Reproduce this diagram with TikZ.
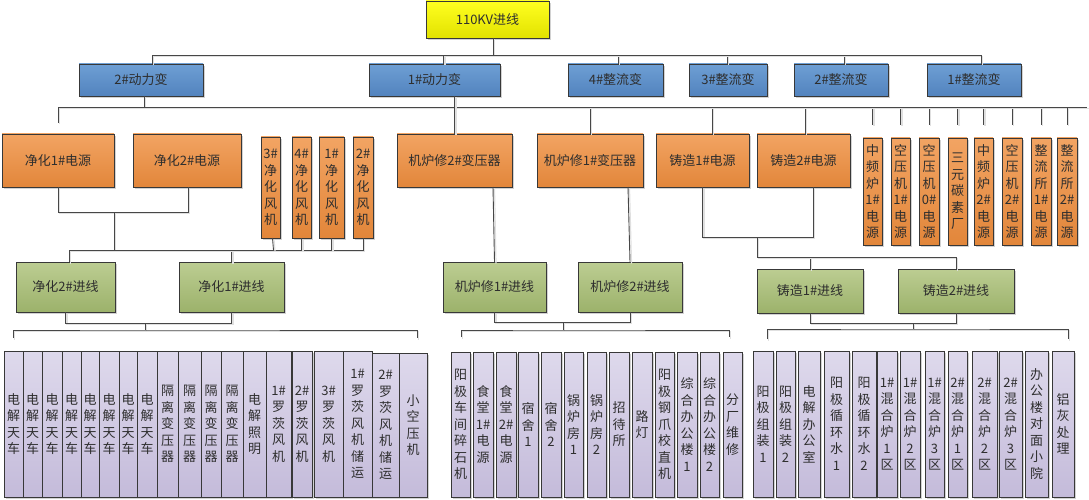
\documentclass[tikz,border=0pt]{standalone}
\usepackage{fontspec}
\newfontfamily\cjk{Noto Sans CJK SC}
\usetikzlibrary{shadows}
\definecolor{yT}{HTML}{FFFF20}
\definecolor{yB}{HTML}{E2E200}
\definecolor{bT}{HTML}{6E9FD4}
\definecolor{bB}{HTML}{5283BE}
\definecolor{oT}{HTML}{F2A463}
\definecolor{oB}{HTML}{E2863A}
\definecolor{gT}{HTML}{BCCD92}
\definecolor{gB}{HTML}{9CB26B}
\definecolor{pT}{HTML}{DED9EC}
\definecolor{pB}{HTML}{C4BBDA}
\newcommand\bx[7]{\node[#6, minimum width={#4-#2}, minimum height={#5-#3}] (#1) at ({(#2+#4)/2},{-(#3+#5)/2}) {#7};}
\tikzset{
  bx/.style={draw=black!78, line width=0.9pt, inner sep=0pt, outer sep=0pt, align=center,
    text=black!82, font=\cjk\fontsize{13}{16.5}\selectfont,
    drop shadow={shadow xshift=2pt, shadow yshift=-2pt, fill=black!35, opacity=0.5}},
  ybox/.style={bx, top color=yT, bottom color=yB},
  bbox/.style={bx, top color=bT, bottom color=bB},
  obox/.style={bx, top color=oT, bottom color=oB},
  gbox/.style={bx, top color=gT, bottom color=gB},
  pbox/.style={bx, top color=pT, bottom color=pB},
  conn/.style={draw=black!72, line width=0.9pt,
    preaction={draw=black!12, line width=1.2pt, transform canvas={shift={(1.5pt,-1.5pt)}}}}
}
\begin{document}
\begin{tikzpicture}[x=1pt,y=1pt]
\useasboundingbox (0,0) rectangle (1089,-500);
% top
\bx{top}{426}{1}{549}{38}{ybox}{110KV进线}
% level 1
\bx{dl2}{79}{64}{203}{96}{bbox}{2\#动力变}
\bx{dl1}{369}{64}{500}{96}{bbox}{1\#动力变}
\bx{zl4}{568}{64}{663}{96}{bbox}{4\#整流变}
\bx{zl3}{689}{64}{767}{96}{bbox}{3\#整流变}
\bx{zl2}{794}{64}{888}{96}{bbox}{2\#整流变}
\bx{zl1}{927}{64}{1021}{96}{bbox}{1\#整流变}
% level 2
\bx{jh1}{2}{134}{114}{187}{obox}{净化1\#电源}
\bx{jh2}{133}{134}{241}{187}{obox}{净化2\#电源}
\bx{f3}{261}{137}{280}{238}{obox}{3\#\\净\\化\\风\\机}
\bx{f4}{292}{137}{311}{238}{obox}{4\#\\净\\化\\风\\机}
\bx{f1}{319}{137}{344}{238}{obox}{1\#\\净\\化\\风\\机}
\bx{f2}{353}{137}{373}{238}{obox}{2\#\\净\\化\\风\\机}
\bx{jb2}{397}{134}{512}{187}{obox}{机炉修2\#变压器}
\bx{jb1}{537}{134}{643}{187}{obox}{机炉修1\#变压器}
\bx{zz1}{656}{134}{749}{187}{obox}{铸造1\#电源}
\bx{zz2}{757}{134}{850}{187}{obox}{铸造2\#电源}
\bx{s1}{863}{138}{882}{245}{obox}{中\\频\\炉\\1\#\\电\\源}
\bx{s2}{891}{138}{910}{245}{obox}{空\\压\\机\\1\#\\电\\源}
\bx{s3}{919}{138}{939}{245}{obox}{空\\压\\机\\0\#\\电\\源}
\bx{s4}{948}{138}{967}{245}{obox}{三\\元\\碳\\素\\厂}
\bx{s5}{974}{138}{993}{245}{obox}{中\\频\\炉\\2\#\\电\\源}
\bx{s6}{1002}{138}{1022}{245}{obox}{空\\压\\机\\2\#\\电\\源}
\bx{s7}{1031}{138}{1051}{245}{obox}{整\\流\\所\\1\#\\电\\源}
\bx{s8}{1057}{138}{1077}{245}{obox}{整\\流\\所\\2\#\\电\\源}
% level 3
\bx{jx2}{16}{262}{115}{312}{gbox}{净化2\#进线}
\bx{jx1}{179}{262}{284}{312}{gbox}{净化1\#进线}
\bx{jk1}{443}{262}{546}{312}{gbox}{机炉修1\#进线}
\bx{jk2}{578}{262}{682}{312}{gbox}{机炉修2\#进线}
\bx{zj1}{757}{269}{863}{313}{gbox}{铸造1\#进线}
\bx{zj2}{898}{269}{1014}{313}{gbox}{铸造2\#进线}
% bottom left group
\bx{p1}{4}{351}{23}{497}{pbox}{电\\解\\天\\车}
\bx{p2}{23}{351}{42}{497}{pbox}{电\\解\\天\\车}
\bx{p3}{42}{351}{62}{497}{pbox}{电\\解\\天\\车}
\bx{p4}{62}{351}{81}{497}{pbox}{电\\解\\天\\车}
\bx{p5}{81}{351}{99}{497}{pbox}{电\\解\\天\\车}
\bx{p6}{99}{351}{119}{497}{pbox}{电\\解\\天\\车}
\bx{p7}{119}{351}{137}{497}{pbox}{电\\解\\天\\车}
\bx{p8}{137}{351}{157}{497}{pbox}{电\\解\\天\\车}
\bx{p9}{157}{351}{178}{497}{pbox}{隔\\离\\变\\压\\器}
\bx{p10}{178}{351}{201}{497}{pbox}{隔\\离\\变\\压\\器}
\bx{p11}{201}{351}{221}{497}{pbox}{隔\\离\\变\\压\\器}
\bx{p12}{221}{351}{243}{497}{pbox}{隔\\离\\变\\压\\器}
\bx{p13}{243}{351}{266}{497}{pbox}{电\\解\\照\\明}
\bx{p14}{266}{351}{291}{497}{pbox}{1\#\\罗\\茨\\风\\机}
\bx{p15}{292}{351}{312}{497}{pbox}{2\#\\罗\\茨\\风\\机}
\bx{p16}{314}{351}{343}{497}{pbox}{3\#\\罗\\茨\\风\\机}
\bx{p17}{343}{351}{372}{497}{pbox}{1\#\\罗\\茨\\风\\机\\储\\运}
\bx{p18}{372}{353}{399}{497}{pbox}{2\#\\罗\\茨\\风\\机\\储\\运}
\bx{p19}{399}{353}{427}{497}{pbox}{小\\空\\压\\机}
% bottom middle group
\bx{q1}{451}{352}{470}{497}{pbox}{阳\\极\\车\\间\\碎\\石\\机}
\bx{q2}{473}{352}{493}{497}{pbox}{食\\堂\\1\#\\电\\源}
\bx{q3}{496}{352}{516}{497}{pbox}{食\\堂\\2\#\\电\\源}
\bx{q4}{518}{352}{538}{497}{pbox}{宿\\舍\\1}
\bx{q5}{541}{352}{561}{497}{pbox}{宿\\舍\\2}
\bx{q6}{564}{352}{583}{497}{pbox}{锅\\炉\\房\\1}
\bx{q7}{587}{352}{606}{497}{pbox}{锅\\炉\\房\\2}
\bx{q8}{609}{352}{629}{497}{pbox}{招\\待\\所}
\bx{q9}{632}{352}{652}{497}{pbox}{路\\灯}
\bx{q10}{655}{352}{674}{497}{pbox}{阳\\极\\钢\\爪\\校\\直\\机}
\bx{q11}{677}{352}{697}{497}{pbox}{综\\合\\办\\公\\楼\\1}
\bx{q12}{700}{352}{719}{497}{pbox}{综\\合\\办\\公\\楼\\2}
\bx{q13}{723}{352}{742}{497}{pbox}{分\\厂\\维\\修}
% bottom right group
\bx{r1}{753}{351}{773}{497}{pbox}{阳\\极\\组\\装\\1}
\bx{r2}{776}{351}{795}{497}{pbox}{阳\\极\\组\\装\\2}
\bx{r3}{798}{351}{820}{497}{pbox}{电\\解\\办\\公\\室}
\bx{r4}{824}{351}{849}{497}{pbox}{阳\\极\\循\\环\\水\\1}
\bx{r5}{852}{351}{876}{497}{pbox}{阳\\极\\循\\环\\水\\2}
\bx{r6}{877}{351}{897}{497}{pbox}{1\#\\混\\合\\炉\\1\\区}
\bx{r7}{900}{351}{920}{497}{pbox}{1\#\\混\\合\\炉\\2\\区}
\bx{r8}{925}{351}{944}{497}{pbox}{1\#\\混\\合\\炉\\3\\区}
\bx{r9}{948}{351}{967}{497}{pbox}{2\#\\混\\合\\炉\\1\\区}
\bx{r10}{972}{351}{997}{497}{pbox}{2\#\\混\\合\\炉\\2\\区}
\bx{r11}{999}{351}{1022}{497}{pbox}{2\#\\混\\合\\炉\\3\\区}
\bx{r12}{1025}{351}{1048}{497}{pbox}{办\\公\\楼\\对\\面\\小\\院}
\bx{r13}{1052}{351}{1074}{497}{pbox}{铝\\灰\\处\\理}
% ---- connectors ----
% top bus
\draw[conn] ([xshift=5.5]top.south) -- ++(0,-17) coordinate (b0);
\draw[conn] (b0) -| ([xshift=11]dl2.north);
\draw[conn] (b0) -| ([xshift=9]dl1.north);
\draw[conn] (b0) -| ([xshift=2.5]zl4.north);
\draw[conn] (b0) -| ([xshift=-1]zl3.north);
\draw[conn] (b0) -| ([xshift=3]zl2.north);
\draw[conn] (b0) -| ([xshift=7]zl1.north);
% level 2 bus
\draw[conn] ([xshift=3]dl2.south) -- ++(0,-11) coordinate (b1);
\coordinate (bend) at (1087,-107);
\draw[conn] (b1) -| ([yshift=11]jh1.north);
\draw[conn] (b1) -- (bend);
\draw[conn] (b1) -| (jb1.north);
\draw[conn] (b1) -| ([xshift=9.5]zz1.north);
\draw[conn] (b1) -| ([xshift=1.5]zz2.north);
\foreach \s in {s1,s2,s3,s4,s5,s6,s7,s8}
  \draw[conn] (b1) -| ([yshift=13]\s.north);
\draw[conn] (dl1.south -| jb2.north) -- (jb2.north);
% jinghua
\draw[conn] (jh1.south) -- ++(0,-25) -| ([xshift=1]jh2.south);
\coordinate (jB) at (114,-212);
\draw[conn] (jB) -- ++(0,-38) coordinate (jC);
\draw[conn] (jC) -| ([xshift=3.5]jx2.north);
\draw[conn] (jC) -| (jx1.north);
\draw[conn] (f2.south) |- (jC);
\draw[conn] ([xshift=2]f3.south) -- ([xshift=3]f3.south |- jC);
\draw[conn] (f4.south) -- (f4.south |- jC);
\draw[conn] (f1.south) -- (f1.south |- jC);
% jiluxiu
\draw[conn] ([xshift=38.5]jb2.south) -- (jk1.north);
\draw[conn] ([xshift=38]jb1.south) -- (jk2.north);
% zhuzao
\draw[conn] (zz1.south) -- ++(0,-50) -| ([xshift=9.5]zz2.south);
\coordinate (zA) at (757,-237);
\draw[conn] (zA) -- ++(0,-20) coordinate (zB);
\draw[conn] (zB) -| (zj1.north);
\draw[conn] (zB) -| (zj2.north);
% bottom buses
\draw[conn] (jx2.south) -- ++(0,-11) -| (jx1.south);
\coordinate (lA) at (145,-323);
\coordinate (lL) at (13,-338);
\coordinate (lR) at (417,-338);
\draw[conn] (lA) -- ++(0,-7) coordinate (lB);
\draw[conn] (lL) |- (lB) -| (lR);
\draw[conn] (jk1.south) -- ++(0,-10) -| (jk2.south);
\coordinate (mA) at (563,-322);
\coordinate (mL) at (461,-337);
\coordinate (mR) at (729,-337);
\draw[conn] (mA) -- ++(0,-8) coordinate (mB);
\draw[conn] (mL) |- (mB) -| (mR);
\draw[conn] (zj1.south) -- ++(0,-10) -| (zj2.south);
\coordinate (rA) at (913,-323);
\coordinate (rL) at (767,-339);
\coordinate (rR) at (1068,-339);
\draw[conn] (rA) -- ++(0,-6) coordinate (rB);
\draw[conn] (rL) |- (rB) -| (rR);
\end{tikzpicture}
\end{document}
